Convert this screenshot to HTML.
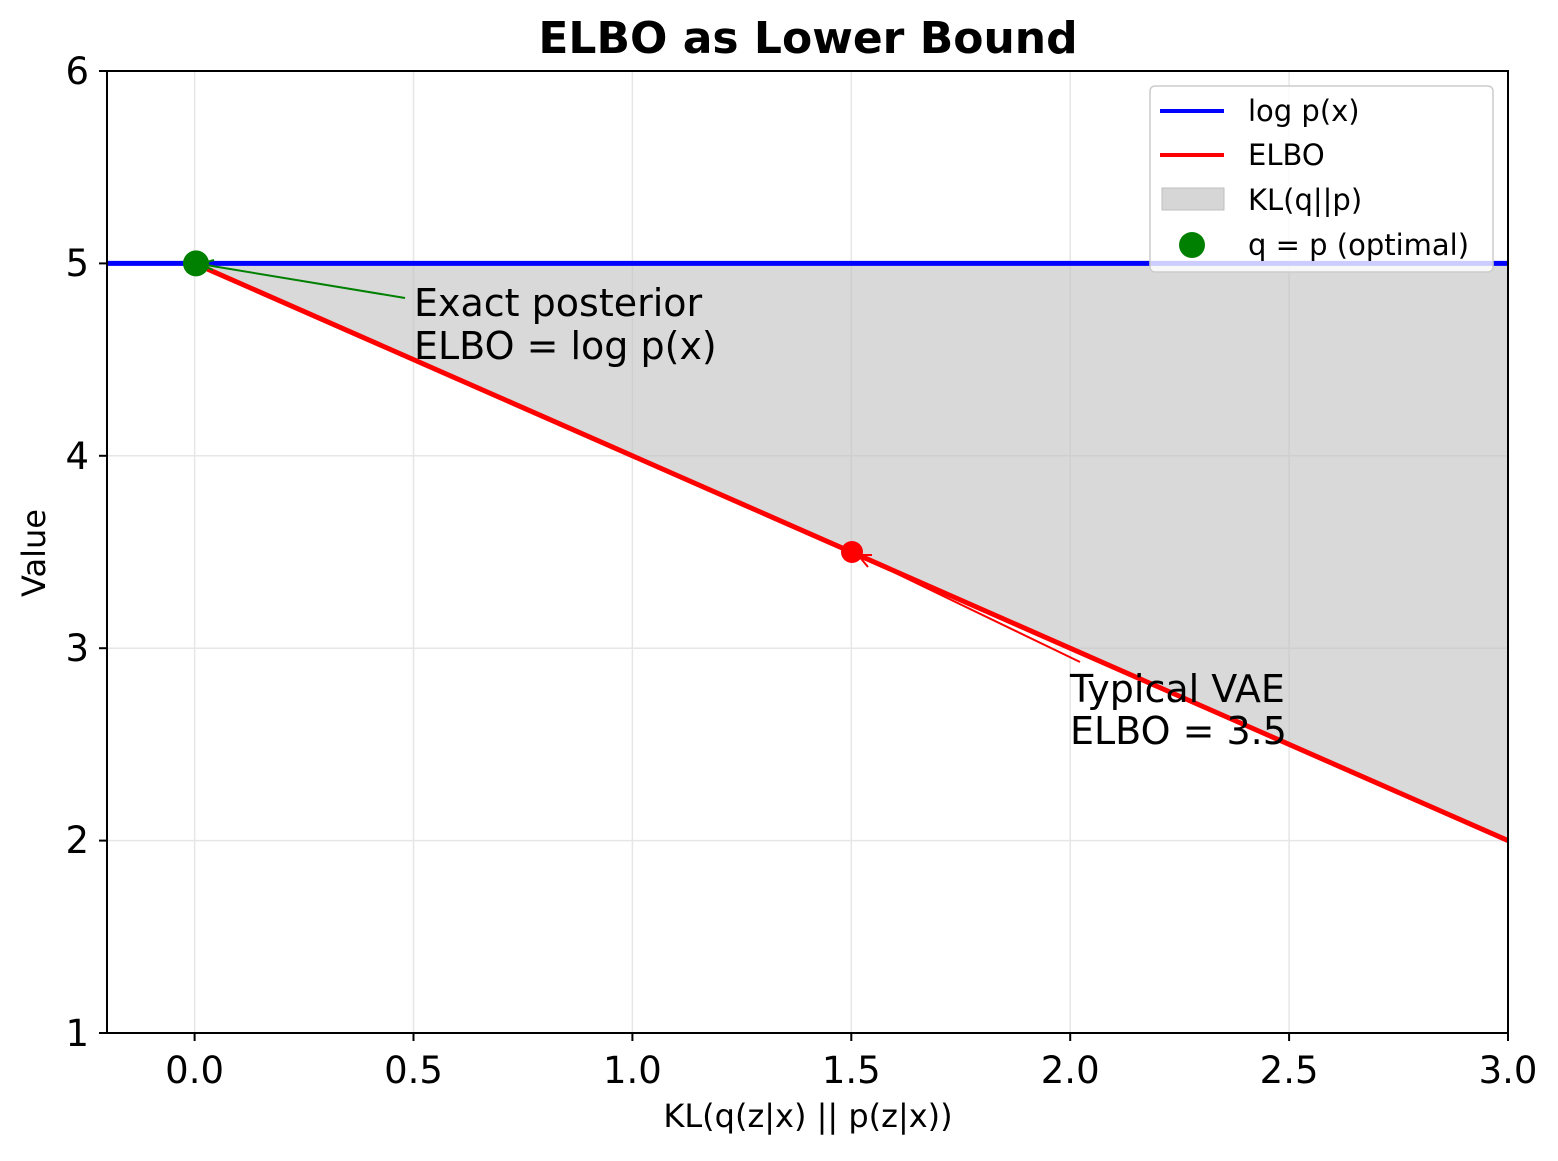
<!DOCTYPE html>
<html><head><meta charset="utf-8"><style>body{margin:0;background:#fff}</style></head><body>
<svg width="1558" height="1156" xmlns="http://www.w3.org/2000/svg" font-family="DejaVu Sans, Liberation Sans, sans-serif">
<rect width="1558" height="1156" fill="#fff"/>
<g stroke="#e6e6e6" stroke-width="1.5">
<line x1="194.6" y1="71" x2="194.6" y2="1033"/><line x1="413.5" y1="71" x2="413.5" y2="1033"/><line x1="632.4" y1="71" x2="632.4" y2="1033"/><line x1="851.3" y1="71" x2="851.3" y2="1033"/><line x1="1070.2" y1="71" x2="1070.2" y2="1033"/><line x1="1289.1" y1="71" x2="1289.1" y2="1033"/>
<line x1="107" y1="263.4" x2="1508" y2="263.4"/><line x1="107" y1="455.8" x2="1508" y2="455.8"/><line x1="107" y1="648.2" x2="1508" y2="648.2"/><line x1="107" y1="840.6" x2="1508" y2="840.6"/>
</g>
<polygon points="194.6,263.4 1508,263.4 1508,840.6" fill="#bfbfbf" fill-opacity="0.6"/>
<line x1="107" y1="263.4" x2="1508" y2="263.4" stroke="#0000ff" stroke-width="5"/>
<line x1="194.6" y1="263.4" x2="1508" y2="840.6" stroke="#ff0000" stroke-width="5"/>
<line x1="405" y1="298" x2="200" y2="264" stroke="green" stroke-width="2"/>
<path d="M214,260 L200,264 L213,270" fill="none" stroke="green" stroke-width="2"/>
<line x1="1080" y1="662" x2="858" y2="555" stroke="red" stroke-width="2"/>
<path d="M872,555 L858,555 L868,567" fill="none" stroke="red" stroke-width="2"/>
<circle cx="196" cy="263.4" r="13" fill="green"/>
<circle cx="852" cy="552" r="11" fill="red"/>
<text x="414" y="316" font-size="38">Exact posterior</text>
<text x="414" y="359" font-size="38">ELBO = log p(x)</text>
<text x="1070" y="702" font-size="38">Typical VAE</text>
<text x="1070" y="744" font-size="38">ELBO = 3.5</text>
<rect x="107" y="71" width="1401" height="962" fill="none" stroke="#000" stroke-width="2"/>
<g stroke="#000" stroke-width="2">
<line x1="194.6" y1="1033" x2="194.6" y2="1041"/><line x1="413.5" y1="1033" x2="413.5" y2="1041"/><line x1="632.4" y1="1033" x2="632.4" y2="1041"/><line x1="851.3" y1="1033" x2="851.3" y2="1041"/><line x1="1070.2" y1="1033" x2="1070.2" y2="1041"/><line x1="1289.1" y1="1033" x2="1289.1" y2="1041"/><line x1="1508" y1="1033" x2="1508" y2="1041"/>
<line x1="99" y1="71" x2="107" y2="71"/><line x1="99" y1="263.4" x2="107" y2="263.4"/><line x1="99" y1="455.8" x2="107" y2="455.8"/><line x1="99" y1="648.2" x2="107" y2="648.2"/><line x1="99" y1="840.6" x2="107" y2="840.6"/><line x1="99" y1="1033" x2="107" y2="1033"/>
</g>
<g font-size="37" text-anchor="middle">
<text x="194.6" y="1083">0.0</text><text x="413.5" y="1083">0.5</text><text x="632.4" y="1083">1.0</text><text x="851.3" y="1083">1.5</text><text x="1070.2" y="1083">2.0</text><text x="1289.1" y="1083">2.5</text><text x="1508" y="1083">3.0</text>
</g>
<g font-size="37" text-anchor="end">
<text x="89" y="84">6</text><text x="89" y="276">5</text><text x="89" y="469">4</text><text x="89" y="661">3</text><text x="89" y="853">2</text><text x="89" y="1046">1</text>
</g>
<text x="808" y="1127" font-size="32" text-anchor="middle">KL(q(z|x) || p(z|x))</text>
<text transform="translate(45,553) rotate(-90)" font-size="32" text-anchor="middle">Value</text>
<text x="808" y="53" font-size="44" font-weight="bold" text-anchor="middle">ELBO as Lower Bound</text>
<rect x="1150" y="86" width="343" height="186" rx="5" fill="#fff" fill-opacity="0.8" stroke="#ccc" stroke-width="1.5"/>
<line x1="1160" y1="111" x2="1224" y2="111" stroke="#0000ff" stroke-width="4"/>
<line x1="1160" y1="155" x2="1224" y2="155" stroke="#ff0000" stroke-width="4"/>
<rect x="1162" y="188" width="62" height="22" fill="#d6d6d6" stroke="#bfbfbf"/>
<circle cx="1192" cy="245" r="13" fill="green"/>
<g font-size="29">
<text x="1248" y="121">log p(x)</text><text x="1248" y="165">ELBO</text><text x="1248" y="210">KL(q||p)</text><text x="1248" y="255">q = p (optimal)</text>
</g>
</svg>
</body></html>
